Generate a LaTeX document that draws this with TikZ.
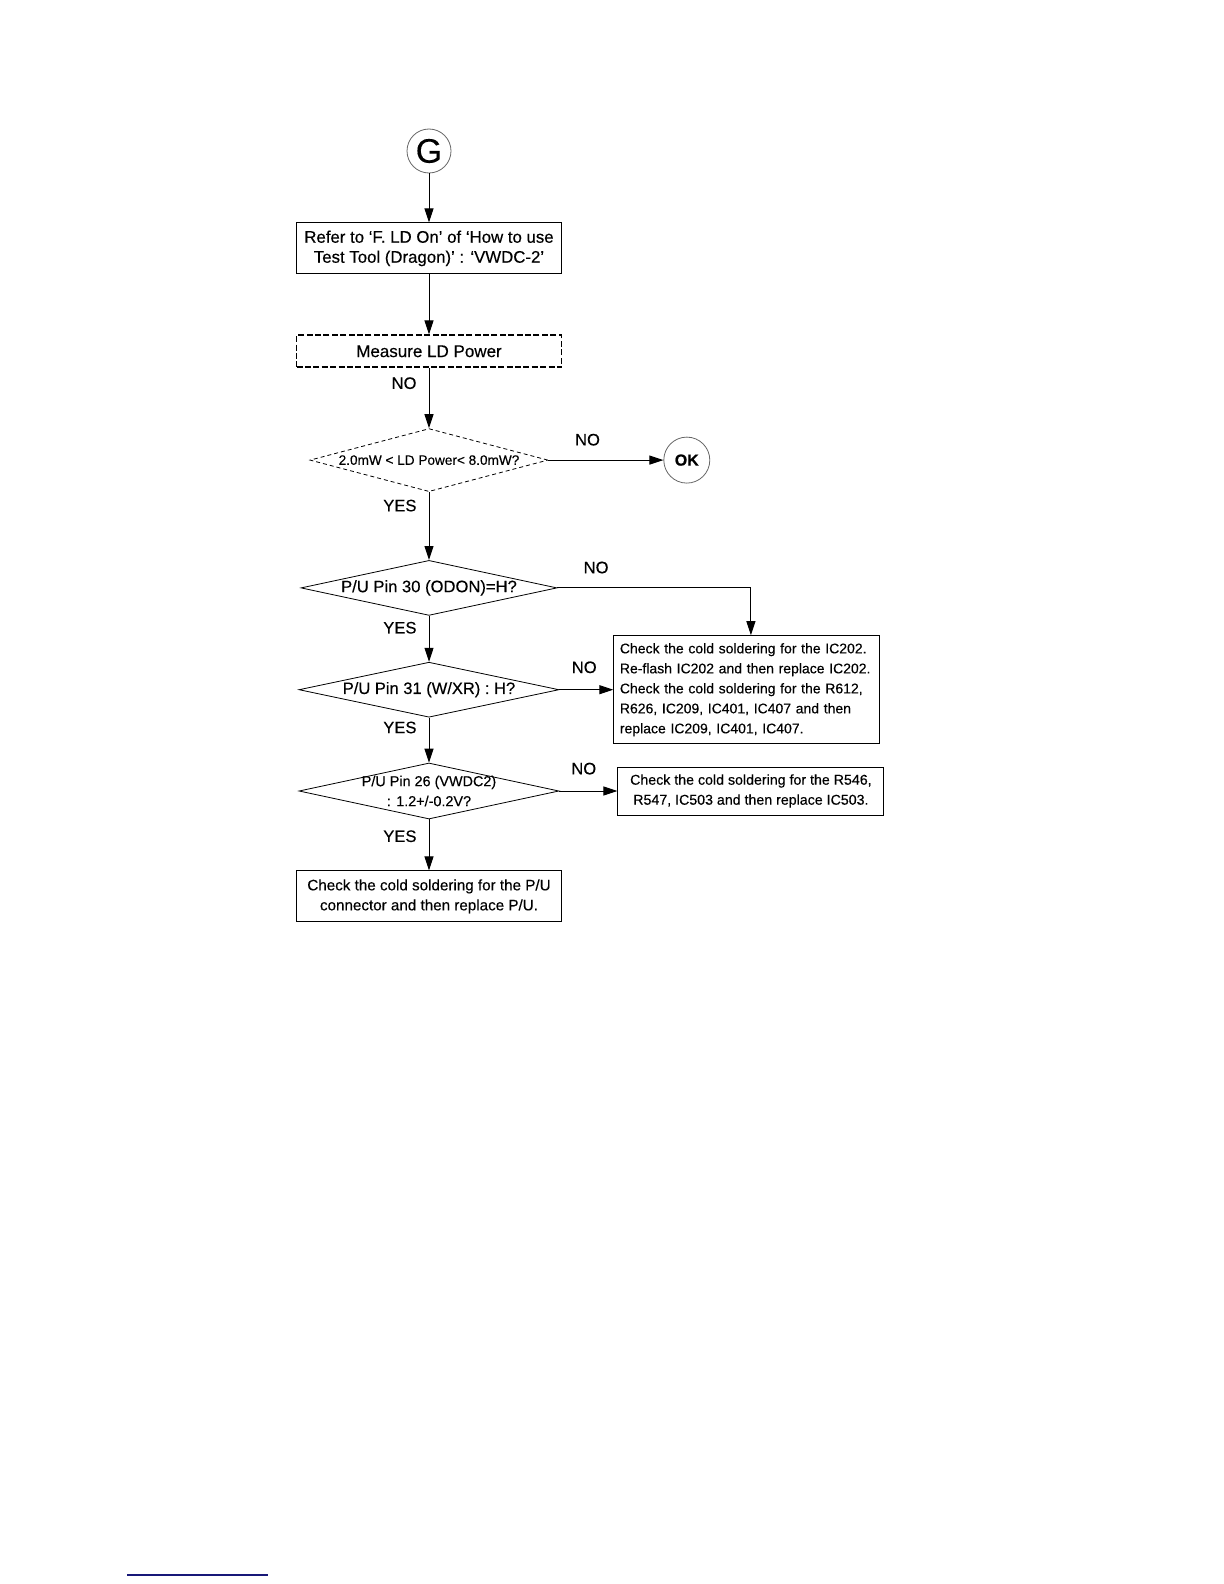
\documentclass[tikz,border=0pt]{standalone}
\usepackage{fontspec}
\setmainfont{Liberation Sans}[FakeBold=0.3]
\usetikzlibrary{positioning, arrows.meta, shapes.geometric}
\definecolor{rulenavy}{RGB}{24,24,120}

\newcommand{\fsz}[1]{\fontsize{#1}{10}\selectfont}

\begin{document}
\begin{tikzpicture}[
  font=\fsz{7},
  box/.style={draw, line width=0.5pt, minimum width=132.5pt,
    minimum height=25.5pt, align=center, inner sep=2pt},
  dbox/.style={box, line width=0.9pt, dash pattern=on 3pt off 1.2pt,
    minimum height=16pt},
  decision/.style={diamond, draw, line width=0.4pt, aspect=4.6,
    minimum width=128pt, minimum height=27.5pt, inner sep=-14pt, align=center},
  term/.style={circle, draw=black!60, line width=0.4pt, inner sep=0pt},
  arrow/.style={-{Triangle[length=7pt,width=4.5pt]}, line width=0.5pt},
  tag/.style={inner sep=1pt, font=\fsz{8.3}},
]
  \useasboundingbox (0,0) rectangle (612pt,-792pt);

  \node[term, minimum size=22pt, font=\fontsize{17}{17}\selectfont] (start) at (214.5pt,-75.5pt) {G};
  \node[box, font=\fsz{8.4}, below=24.5pt of start] (refer) {Refer to `F. LD On' of `How to use\\Test Tool (Dragon)' : `VWDC-2'};
  \node[dbox, font=\fsz{8.5}, below=30pt of refer] (measure) {Measure LD Power};
  \node[decision, dashed, dash pattern=on 2pt off 1.5pt, minimum width=119pt,
    minimum height=31.5pt, font=\fsz{6.8}, below=30pt of measure] (power) {2.0mW < LD Power< 8.0mW?};
  \node[term, minimum size=23pt, font=\bfseries\fsz{8}, right=57.5pt of power] (ok) {OK};

  \node[decision, font=\fsz{8.3}, below=34pt of power] (odon) {P/U Pin 30 (ODON)=H?};
  \node[decision, font=\fsz{8.25}, minimum width=130pt, below=23pt of odon] (wxr) {P/U Pin 31 (W/XR) : H?};
  \node[decision, font=\fsz{7.2}, minimum width=130pt, minimum height=28pt, below=22.5pt of wxr] (vwdc) {P/U Pin 26 (VWDC2)\\: 1.2+/-0.2V?};
  \node[box, font=\fsz{7.6}, below=25.5pt of vwdc] (pickup) {Check the cold soldering for the P/U\\connector and then replace P/U.};

  \node[box, align=left, text width=127pt, minimum height=54pt, inner sep=3pt, right=27pt of wxr] (flash)
    {Check the cold soldering for the IC202.\\Re-flash IC202 and then replace IC202.\\Check the cold soldering for the R612,\\R626, IC209, IC401, IC407 and then\\replace IC209, IC401, IC407.};
  \node[box, font=\fsz{7.1}, minimum width=133pt, minimum height=24pt, right=29pt of vwdc] (ic503)
    {Check the cold soldering for the R546,\\R547, IC503 and then replace IC503.};

  \draw[arrow] (start) -- (refer);
  \draw[arrow] (refer) -- (measure);
  \draw[arrow] (measure) -- node[tag, pos=0.25, left=5pt] {NO} (power);
  \draw[arrow] (power) -- node[tag, pos=0.34, above=6pt] {NO} (ok);
  \draw[arrow] (power) -- node[tag, pos=0.2, left=5pt] {YES} (odon);
  \draw[arrow] (odon.east) -| node[tag, pos=0.1, above=6pt] {NO} ([xshift=2pt]flash.north);
  \draw[arrow] (odon) -- node[tag, pos=0.26, left=5pt] {YES} (wxr);
  \draw[arrow] (wxr.east) -- node[tag, pos=0.46, above=7pt] {NO} (wxr.east -| flash.west);
  \draw[arrow] (wxr) -- node[tag, pos=0.22, left=5pt] {YES} (vwdc);
  \draw[arrow] (vwdc.east) -- node[tag, pos=0.42, above=7pt] {NO} (vwdc.east -| ic503.west);
  \draw[arrow] (vwdc) -- node[tag, pos=0.33, left=5pt] {YES} (pickup);

  \draw[rulenavy, line width=0.8pt] (63.5pt,-787.5pt) -- (134pt,-787.5pt);
\end{tikzpicture}
\end{document}
